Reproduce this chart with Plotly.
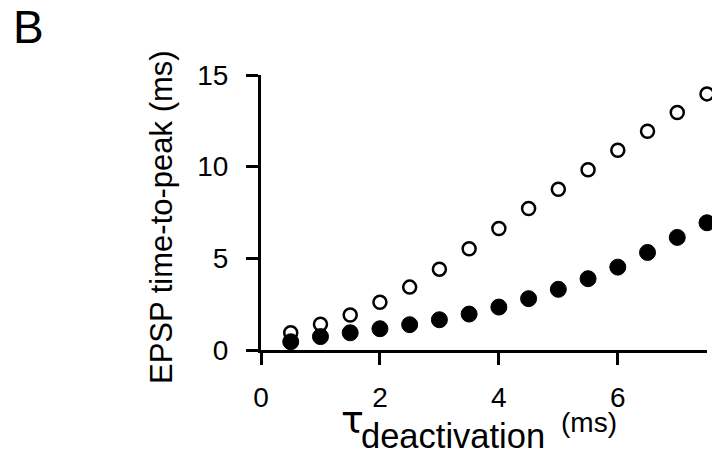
import plotly.graph_objects as go

# ---- data ----
tau_deactivation = [0.5, 1.0, 1.5, 2.0, 2.5, 3.0, 3.5, 4.0, 4.5, 5.0, 5.5, 6.0, 6.5, 7.0, 7.5]
ttp_open = [0.94, 1.40, 1.91, 2.60, 3.43, 4.41, 5.52, 6.63, 7.72, 8.77, 9.83, 10.90, 11.93, 12.95, 13.97]
ttp_filled = [0.45, 0.73, 0.94, 1.16, 1.38, 1.65, 1.96, 2.34, 2.80, 3.31, 3.89, 4.52, 5.32, 6.14, 6.94]
x_ticks = [0, 2, 4, 6]
y_ticks = [0, 5, 10, 15]

W, H = 712, 454
L, R, T, B = 261, 5, 75, 104
FONT = "Liberation Sans, Arial, Helvetica, sans-serif"

pw = W - L - R
ph = H - T - B


def px_x(px):
    return (px - L) / pw


def px_y(py):
    return (H - B - py) / ph


fig = go.Figure()
fig.add_trace(go.Scatter(
    x=tau_deactivation, y=ttp_open, mode="markers",
    marker=dict(symbol="circle", size=13, color="white",
                line=dict(color="black", width=2.5)),
    cliponaxis=False, showlegend=False,
))
fig.add_trace(go.Scatter(
    x=tau_deactivation, y=ttp_filled, mode="markers",
    marker=dict(symbol="circle", size=16, color="black",
                line=dict(color="black", width=1)),
    cliponaxis=False, showlegend=False,
))

axis_common = dict(
    showgrid=False, zeroline=False, showline=True, linecolor="black", linewidth=3,
    ticks="outside", ticklen=12, tickwidth=3, tickcolor="black",
    tickfont=dict(family=FONT, size=28, color="black"),
)

fig.update_xaxes(range=[0, 7.5], tickvals=x_ticks, ticktext=[str(v) for v in x_ticks],
                 ticklabelstandoff=8, **axis_common)
fig.update_yaxes(range=[0, 15], tickvals=y_ticks, ticktext=[str(v) for v in y_ticks],
                 ticklabelstandoff=12, **axis_common)

ann = []
# panel letter
ann.append(dict(text="B", xref="paper", yref="paper", x=px_x(11), y=px_y(27),
                xanchor="left", yanchor="middle", showarrow=False,
                font=dict(family=FONT, size=46, color="black")))
# y title
ann.append(dict(text="EPSP time-to-peak (ms)", xref="paper", yref="paper",
                x=px_x(161), y=px_y(217), xanchor="center", yanchor="middle",
                textangle=-90, showarrow=False,
                font=dict(family=FONT, size=31, color="black")))
# x title pieces
ann.append(dict(text="τ", xref="paper", yref="paper", x=px_x(339), y=px_y(435 - 0.3465 * 42),
                xanchor="left", yanchor="middle", showarrow=False,
                font=dict(family="DejaVu Sans, sans-serif", size=38, color="black")))
ann.append(dict(text="deactivation", xref="paper", yref="paper", x=px_x(359), y=px_y(435.5),
                xanchor="left", yanchor="middle", showarrow=False,
                font=dict(family=FONT, size=34.5, color="black")))
ann.append(dict(text="(ms)", xref="paper", yref="paper", x=px_x(559), y=px_y(422),
                xanchor="left", yanchor="middle", showarrow=False,
                font=dict(family=FONT, size=28, color="black")))

fig.update_layout(
    width=W, height=H,
    margin=dict(l=L, r=R, t=T, b=B, pad=0),
    paper_bgcolor="white", plot_bgcolor="white",
    annotations=ann,
    showlegend=False,
)

fig.write_html(
    "out.html",
    config={"displayModeBar": False},
    post_script="document.body.style.margin='0';document.body.style.overflow='hidden';",
)
